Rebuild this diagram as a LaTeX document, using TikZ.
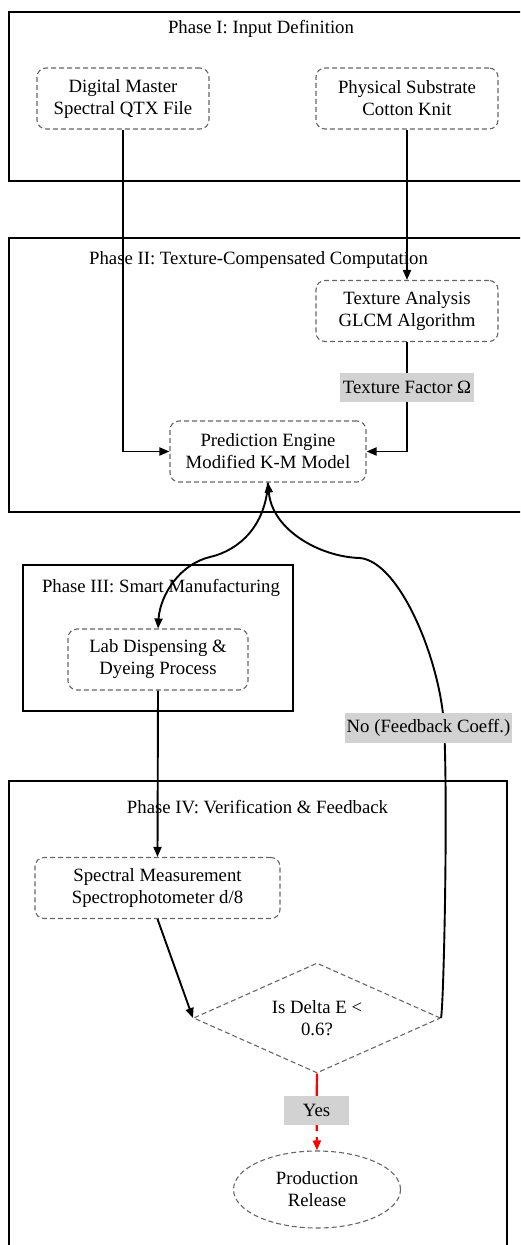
\documentclass[tikz,border=0pt]{standalone}
\usepackage{fontspec}
\setmainfont{Liberation Serif}
\usetikzlibrary{arrows.meta,shapes.geometric}
\tikzset{
    phase/.style={draw=black, line width=2.4pt},
    dashline/.style={draw=gray!80!black, dash pattern=on 5pt off 3pt, line width=1.1pt, align=center, inner sep=0pt},
    stepbox/.style={dashline, rounded corners=9pt, minimum height=61pt},
    flow/.style={line width=1.9pt, -{Triangle[length=10pt,width=8pt]}},
    tag/.style={fill=gray!35, inner sep=0pt, minimum height=29pt},
}
\begin{document}
\begin{tikzpicture}[x=1pt, y=-1pt, font=\fontsize{18.75}{22}\selectfont]
            \useasboundingbox (0,0) rectangle (520,1245);
            \clip (0,0) rectangle (520,1245);

            % 四个阶段的外框
            \draw[phase] (9,12) rectangle (530,181); % Phase I
            \draw[phase] (9,238) rectangle (530,512); % Phase II
            \draw[phase] (23,565) rectangle (293,711); % Phase III
            \draw[phase] (9,781) rectangle (507,1260); % Phase IV

            % 阶段标题
            \node (t1) at (261,28.5) {Phase I: Input Definition};
            \node (t2) at (258.5,260) {Phase II: Texture-Compensated Computation};
            \node (t3) at (161,588) {Phase III: Smart Manufacturing};
            \node (t4) at (257.5,807.5) {Phase IV: Verification \& Feedback};

            % 输入
            \node[stepbox, minimum width=172pt] (dm) at (123,98.5) {Digital Master\\Spectral QTX File};
            \node[stepbox, minimum width=182pt] (ps) at (407,98.5) {Physical Substrate\\Cotton Knit};

            % 计算
            \node[stepbox, minimum width=182pt] (ta) at (407,311) {Texture Analysis\\GLCM Algorithm};
            \node[stepbox, minimum width=196pt] (pe) at (268,451.5) {Prediction Engine\\Modified K-M Model};

            % 生产
            \node[stepbox, minimum width=180pt] (lab) at (158,659.5) {Lab Dispensing \&\\Dyeing Process};

            % 检验
            \node[stepbox, minimum width=245pt] (sm) at (157.5,888) {Spectral Measurement\\Spectrophotometer d/8};
            \node[dashline, diamond, aspect=2.25, minimum width=247pt, minimum height=110pt] (dec) at (317,1018) {Is Delta E <\\0.6?};
            \node[dashline, ellipse, minimum width=167pt, minimum height=77pt] (pr) at (317,1189.5) {Production\\Release};

            % 连线
            \draw[flow] (dm.south) |- (pe.west);
            \draw[flow] (ps.south) -- (ta.north);
            \draw[flow] (ta.south) |- (pe.east);
            \draw[flow] (pe.south) .. controls (266,525) and (240,550) .. (210,557)
                .. controls (180,564) and (160,595) .. (lab.north);
            \draw[flow] (lab.south) -- (sm.north);
            \draw[flow] (sm.south) -- (dec.west);

            % 反馈回路
            \draw[flow] (dec.east) .. controls (444,1000) and (448,800) .. (444,725)
                .. controls (440,660) and (400,562) .. (360,558)
                .. controls (320,557) and (272,530) .. (pe.south);

            % 标签
            \node[tag, minimum width=134pt] (omega) at (407,387.5) {Texture Factor Ω};
            \node[tag, minimum width=167pt, minimum height=30pt] (fb) at (428.5,728) {No (Feedback Coeff.)};
            \node[tag, minimum width=65pt] (yes) at (316.5,1110.5) {Yes};

            % 通过
            \draw[red, line width=2.2pt] (dec.south) -- (yes);
            \draw[red, line width=2.2pt, dash pattern=on 6pt off 6pt, -{Triangle[length=10pt,width=8pt]}] (yes) -- (pr.north);

        \end{tikzpicture}
\end{document}
